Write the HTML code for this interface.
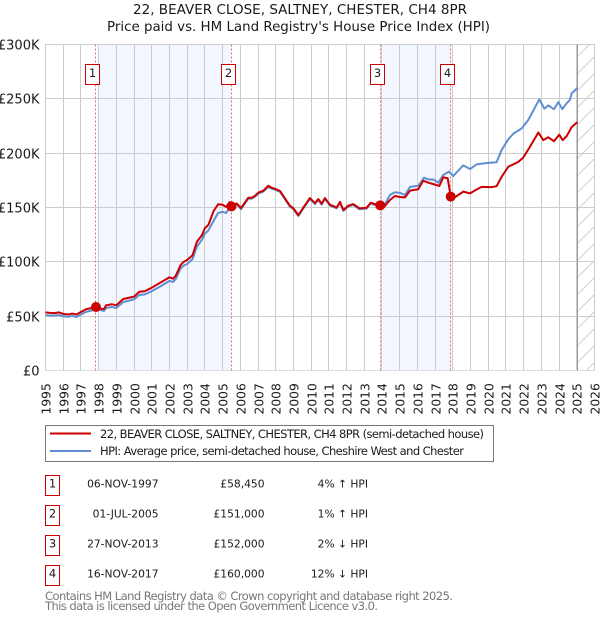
<!DOCTYPE html>
<html lang="en">
<head>
<meta charset="utf-8">
<title>22, Beaver Close price paid vs HPI</title>
<style>
html,body{margin:0;padding:0;background:#fff;}
svg{display:block;}
text{font-family:"DejaVu Sans","Liberation Sans",sans-serif;fill:#1a1a1a;}
</style>
</head>
<body>
<svg id="chart" xmlns="http://www.w3.org/2000/svg" width="600" height="620" viewBox="0 0 600 620">
  <defs>
    <pattern id="hatch" width="17" height="17" patternUnits="userSpaceOnUse" patternTransform="translate(579 4)">
      <path d="M-1 18 L18 -1" stroke="#d0d0d0" stroke-width="1" fill="none"/>
    </pattern>
  </defs>
  <rect x="0" y="0" width="600" height="620" fill="#ffffff"/>
  <text x="300" y="14" text-anchor="middle" font-size="13.500" textLength="334">22, BEAVER CLOSE, SALTNEY, CHESTER, CH4 8PR</text>
  <text x="298.500" y="31" text-anchor="middle" font-size="13.400" textLength="383">Price paid vs. HM Land Registry's House Price Index (HPI)</text>
  <g id="bands"></g>
  <g id="grid"></g>
  <g id="forecast"></g>
  <g id="saleLines"></g>
  <g id="series"></g>
  <g id="saleMarkers"></g>
  <g id="saleBoxes"></g>
  <g id="yTicks"></g>
  <g id="xTicks"></g>

  <g>
    <rect x="45.5" y="425.500" width="448" height="36" fill="#fff" stroke="#777" stroke-width="1"/>
    <line x1="50" x2="91" y1="433.500" y2="433.500" stroke="#cc0000" stroke-width="2"/>
    <line x1="50" x2="91" y1="451" y2="451" stroke="#5f8fd0" stroke-width="2"/>
    <text x="100" y="438" font-size="11.500" textLength="384">22, BEAVER CLOSE, SALTNEY, CHESTER, CH4 8PR (semi-detached house)</text>
    <text x="100" y="455" font-size="11.500" textLength="364">HPI: Average price, semi-detached house, Cheshire West and Chester</text>
  </g>

  <g font-size="10.700">
    <g>
      <rect x="45.5" y="475.500" width="14" height="20" fill="#fff" stroke="#cc0000"/>
      <text x="52.500" y="487.500" text-anchor="middle" font-size="11.500">1</text>
      <text x="158.500" y="487.500" text-anchor="end">06-NOV-1997</text>
      <text x="264.500" y="487.500" text-anchor="end">£58,450</text>
      <text x="368" y="487.500" text-anchor="end">4% ↑ HPI</text>
    </g>
    <g>
      <rect x="45.5" y="505.500" width="14" height="20" fill="#fff" stroke="#cc0000"/>
      <text x="52.500" y="517.500" text-anchor="middle" font-size="11.500">2</text>
      <text x="158.500" y="517.500" text-anchor="end">01-JUL-2005</text>
      <text x="264.500" y="517.500" text-anchor="end">£151,000</text>
      <text x="368" y="517.500" text-anchor="end">1% ↑ HPI</text>
    </g>
    <g>
      <rect x="45.5" y="535.500" width="14" height="20" fill="#fff" stroke="#cc0000"/>
      <text x="52.500" y="547.500" text-anchor="middle" font-size="11.500">3</text>
      <text x="158.500" y="547.500" text-anchor="end">27-NOV-2013</text>
      <text x="264.500" y="547.500" text-anchor="end">£152,000</text>
      <text x="368" y="547.500" text-anchor="end">2% ↓ HPI</text>
    </g>
    <g>
      <rect x="45.5" y="565.500" width="14" height="20" fill="#fff" stroke="#cc0000"/>
      <text x="52.500" y="577.500" text-anchor="middle" font-size="11.500">4</text>
      <text x="158.500" y="577.500" text-anchor="end">16-NOV-2017</text>
      <text x="264.500" y="577.500" text-anchor="end">£160,000</text>
      <text x="368" y="577.500" text-anchor="end">12% ↓ HPI</text>
    </g>
  </g>

  <text x="45" y="600" font-size="11.500" style="fill:#777" textLength="408">Contains HM Land Registry data © Crown copyright and database right 2025.</text>
  <text x="45" y="610" font-size="11.500" style="fill:#777" textLength="333">This data is licensed under the Open Government Licence v3.0.</text>
</svg>
<script>
var yearTicks = [1995,1996,1997,1998,1999,2000,2001,2002,2003,2004,2005,2006,2007,2008,2009,2010,2011,2012,2013,2014,2015,2016,2017,2018,2019,2020,2021,2022,2023,2024,2025,2026];
var valueTicks = [0,50,100,150,200,250,300];
var valueTickLabels = ['£0','£50K','£100K','£150K','£200K','£250K','£300K'];

var priceYears = [1995,1995.25,1995.5,1995.75,1996,1996.3,1996.5,1996.75,1997,1997.3,1997.6,1997.85,1998.1,1998.3,1998.42,1998.74,1999,1999.39,2000,2000.3,2000.6,2001,2001.5,2002,2002.2,2002.35,2002.63,2002.8,2003,2003.3,2003.55,2003.84,2004,2004.2,2004.5,2004.75,2005,2005.2,2005.4,2005.5,2005.8,2006.04,2006.45,2006.64,2006.83,2007.05,2007.3,2007.58,2007.77,2008,2008.24,2008.52,2008.8,2009,2009.28,2009.56,2009.93,2010.22,2010.4,2010.59,2010.78,2011.06,2011.44,2011.63,2011.82,2012.1,2012.38,2012.72,2013.13,2013.36,2013.6,2013.9,2014.08,2014.45,2014.73,2015.02,2015.3,2015.58,2016.05,2016.33,2016.62,2016.9,2017.24,2017.46,2017.71,2017.88,2018.03,2018.59,2018.97,2019.35,2019.63,2020.19,2020.47,2020.76,2021.13,2021.7,2021.98,2022.36,2022.83,2023.11,2023.39,2023.71,2024.01,2024.2,2024.43,2024.71,2025.03];
var priceValues = [53.5,53,52.8,53.5,52,51.6,52.4,51.5,53.8,56.5,57.5,58.45,57,56.5,60,61,60,65.8,68,72.5,72.9,76.2,81,85.8,84.5,87,97,100,101.7,106,118.5,124.7,131,134,147,153,152.5,150.5,155,151,153.8,149.5,159,159,160.8,164,165.5,170,168.2,167,165.2,158.5,151.7,149.2,143,150,158.7,154,157.8,153.5,158.7,152.6,150,155.2,147.7,151.7,153.2,149.2,149.8,154.4,153.2,152,149.8,156.9,160.6,159.7,159.3,165.5,166.8,174.7,172.8,171.5,169.8,177.8,176.9,160,158.5,164.6,163,166.7,169,168.7,169.6,178.4,187.5,192,196,206,219,212,214.6,211,217,212,215.7,224,228.6];

var hpiYears = [1995,1995.25,1995.5,1995.75,1996,1996.3,1996.5,1996.75,1997,1997.3,1997.6,1997.85,1998.1,1998.3,1998.42,1998.74,1999,1999.39,2000,2000.3,2000.6,2001,2001.5,2002,2002.2,2002.35,2002.63,2002.8,2003,2003.3,2003.55,2003.84,2004,2004.2,2004.5,2004.75,2005,2005.2,2005.4,2005.5,2005.8,2006.04,2006.45,2006.64,2006.83,2007.05,2007.3,2007.58,2007.77,2008,2008.24,2008.52,2008.8,2009,2009.28,2009.56,2009.93,2010.22,2010.4,2010.59,2010.78,2011.06,2011.44,2011.63,2011.82,2012.1,2012.38,2012.72,2013.13,2013.36,2013.6,2013.9,2014.08,2014.45,2014.73,2015.02,2015.3,2015.58,2016.05,2016.37,2016.62,2016.9,2017.18,2017.46,2017.78,2018.03,2018.59,2018.97,2019.35,2019.91,2020.47,2020.76,2021.13,2021.42,2021.89,2022.26,2022.88,2023.17,2023.39,2023.71,2023.96,2024.18,2024.43,2024.61,2024.71,2025.03];
var hpiValues = [50.8,50.6,50.6,51,49.8,49.5,50.2,49.2,51.5,54,55.2,56.2,55.5,54.8,57.5,58.5,57.5,63,65.5,69.5,70,73,77.5,82.5,81.5,84,94,96.5,98,102.5,114,120.5,126,129,138,145,146,145,150,149.5,153,148.5,158,158.2,160,163,164.7,169,167.4,166,164.4,157.7,150.9,148.4,142.2,149.2,157.9,153.2,157,152.7,157.9,151.8,149.2,154.4,146.9,150.9,152.4,148.4,149,153.6,152.4,153,150.5,161.5,164,163.4,161.5,169,170,177.4,175.8,175.8,172.8,179.9,183,179,188.8,185.4,189.7,191,191.6,203,212.7,218,222.8,230.5,249.5,241,244,240.5,247,240.5,246,249,255,260];

var saleYears = [1997.85,2005.5,2013.9,2017.88];
var salePrices = [58.45,151,152,160];
var saleLabels = ['1','2','3','4'];
var bandStarts = [1998,2014];
var bandEnds = [2005.5,2017.88];
var dataEndYear = 2025.05;

function xScale(year){ return 45.5 + (year - 1995) * 549 / 31; }
function yScale(value){ return 370.5 - value * 326 / 300; }
function crisp(p){ return Math.floor(p) + 0.5; }

var svgNS = 'http://www.w3.org/2000/svg';
function mk(parentId, tag, attrs, txt){
  var el = document.createElementNS(svgNS, tag);
  for (var k in attrs) el.setAttribute(k, attrs[k]);
  if (txt !== undefined) el.textContent = txt;
  document.getElementById(parentId).appendChild(el);
  return el;
}
var el, i;

for (i = 0; i < bandStarts.length; i++) {
  el = mk('bands','rect',{x:xScale(bandStarts[i]),y:44.5,width:xScale(bandEnds[i])-xScale(bandStarts[i]),height:326,fill:'#f3f7ff'});
  
  
}
for (i = 0; i < yearTicks.length; i++) {
  var gx = crisp(xScale(yearTicks[i]));
  el = mk('grid','line',{x1:gx,x2:gx,y1:44,y2:370.5,stroke:'#cccccc','stroke-width':1});
  
  
  el = mk('xTicks','text',{transform:'translate('+(gx+5)+' 414.500) rotate(-90)','font-size':12.3},String(yearTicks[i]));
  
  
}
for (i = 0; i < valueTicks.length; i++) {
  var gy = crisp(yScale(valueTicks[i]));
  el = mk('grid','line',{x1:45,x2:595,y1:gy,y2:gy,stroke:valueTicks[i]===0?'#dddddd':'#cccccc','stroke-width':1});
  
  
  el = mk('yTicks','text',{x:39.5,y:gy+5,'text-anchor':'end','font-size':13},valueTickLabels[i]);
  
  
}

var fx = xScale(dataEndYear);
el = mk('forecast','rect',{x:fx,y:44.5,width:594.5-fx,height:326,fill:'url(#hatch)'});


el = mk('forecast','line',{x1:crisp(fx),x2:crisp(fx),y1:44,y2:370.5,stroke:'#999999','stroke-width':1});



function linePath(xs, ys){
  var d = '';
  for (var j = 0; j < xs.length; j++) d += (j ? 'L' : 'M') + xScale(xs[j]).toFixed(2) + ' ' + yScale(ys[j]).toFixed(2);
  return d;
}
el = mk('series','path',{d:linePath(hpiYears,hpiValues),fill:'none',stroke:'#5f8fd0','stroke-width':2,'stroke-linejoin':'round'});


el = mk('series','path',{d:linePath(priceYears,priceValues),fill:'none',stroke:'#cc0000','stroke-width':2,'stroke-linejoin':'round'});



for (i = 0; i < saleYears.length; i++) {
  var sx = xScale(saleYears[i]), lx = crisp(sx);
  el = mk('saleLines','line',{x1:lx,x2:lx,y1:44.5,y2:370.5,stroke:'#e8697a','stroke-width':1,'stroke-dasharray':'2 2'});
  
  
  el = mk('saleMarkers','circle',{cx:sx,cy:yScale(salePrices[i]),r:5,fill:'#cc0000'});
  
  
  el = mk('saleBoxes','rect',{x:Math.floor(sx)-9.5,y:64.5,width:14,height:20,fill:'#ffffff',stroke:'#cc0000','stroke-width':1});
  
  
  el = mk('saleBoxes','text',{x:Math.floor(sx)-2.5,y:77,'text-anchor':'middle','font-size':11.5},saleLabels[i]);
  
  
}
</script>
</body>
</html>
